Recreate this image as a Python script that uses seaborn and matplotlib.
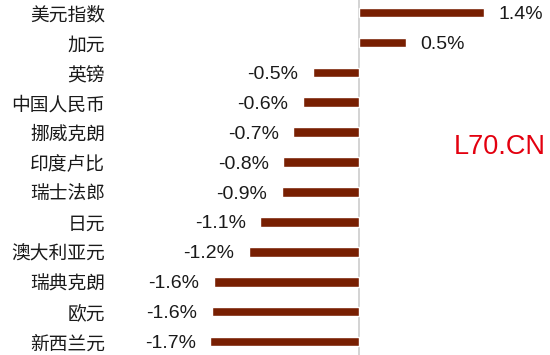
import matplotlib
matplotlib.use("Agg")
import matplotlib.pyplot as plt
import seaborn as sns
import pandas as pd

# 各货币对美元的涨跌幅 (%)
currencies = ["美元指数", "加元", "英镑", "中国人民币", "挪威克朗", "印度卢比",
              "瑞士法郎", "日元", "澳大利亚元", "瑞典克朗", "欧元", "新西兰元"]
changes = [1.40, 0.53, -0.51, -0.62, -0.73, -0.84,
           -0.86, -1.10, -1.23, -1.62, -1.64, -1.66]
labels = ["1.4%", "0.5%", "-0.5%", "-0.6%", "-0.7%", "-0.8%",
          "-0.9%", "-1.1%", "-1.2%", "-1.6%", "-1.6%", "-1.7%"]

df = pd.DataFrame({"currency": currencies, "change": changes})

sns.set_style("white")
plt.rcParams['font.family'] = ['Liberation Sans', 'Noto Sans CJK SC', 'DejaVu Sans']

fig = plt.figure(figsize=(5.5, 3.55), dpi=100)
ax = fig.add_axes([108 / 550, 0, 442 / 550, 1])

sns.barplot(data=df, x="change", y="currency", orient="h", color="#781f02",
            saturation=1, width=0.32, ax=ax)

ax.axvline(0, color="#d0d0d0", lw=1.3, zorder=0)
ax.set_xlim(-2.805, 2.144)
ax.set_ylim(11.45, -0.42)

for i, (v, lab) in enumerate(zip(changes, labels)):
    off = 10.5 if v > 0 else -10.5
    ax.annotate(lab, (v, i), xytext=(off, 0), textcoords="offset points",
                ha="left" if v > 0 else "right", va="center_baseline",
                fontsize=14, color="#1a1a1a")

ax.text(0.993, 0.585, "L70.CN", transform=fig.transFigure, ha="right",
        va="center", fontsize=19.5, color="#e3000f")

ax.set_xlabel("")
ax.set_ylabel("")
ax.set_xticks([])
ax.tick_params(axis="y", length=0, pad=2)
for t in ax.get_yticklabels():
    t.set_family(['Noto Sans CJK SC', 'DejaVu Sans'])
    t.set_fontsize(13.5)
    t.set_color("#1a1a1a")
sns.despine(ax=ax, left=True, bottom=True)

fig.savefig("out.png", dpi=100)
